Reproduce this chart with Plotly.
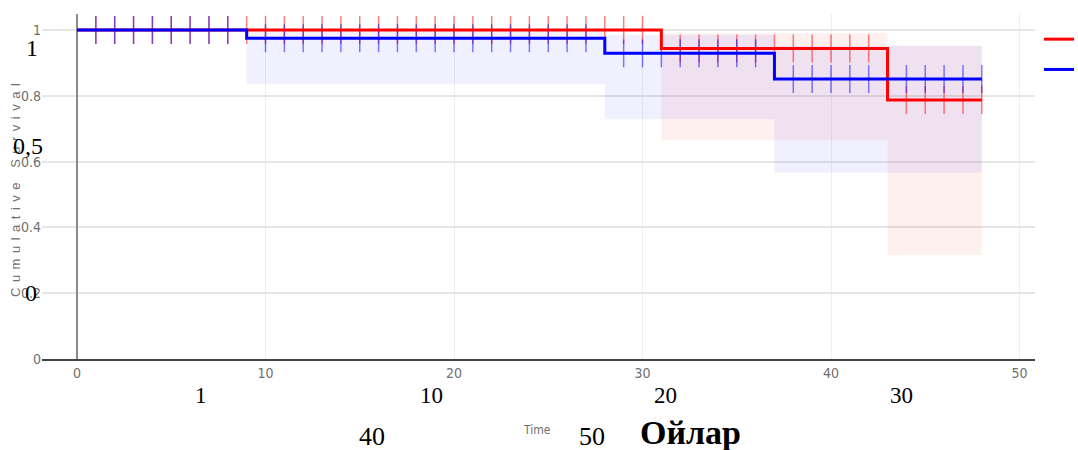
import plotly.graph_objects as go

# ---------------- data ----------------
series_names = ["a", "b"]

# Kaplan-Meier step curves
red_t = [0, 31, 43, 48]
red_s = [1.0, 0.944, 0.787, 0.787]
blue_t = [0, 9, 28, 37, 48]
blue_s = [1.0, 0.975, 0.929, 0.851, 0.851]

# confidence bands (step)
red_band_t = [31, 43, 48]
red_band_hi = [0.99, 0.952, 0.952]
red_band_lo = [0.666, 0.316, 0.316]
blue_band_t = [9, 28, 37, 48]
blue_band_hi = [1.0, 0.985, 0.952, 0.952]
blue_band_lo = [0.835, 0.729, 0.566, 0.566]

# censoring times
red_censor_t = [1, 2, 3, 4, 5, 6, 7, 8, 9, 10, 11, 12, 13, 14, 15, 16, 17, 18, 19,
                20, 21, 22, 23, 24, 25, 26, 27, 28, 29, 30,
                32, 33, 34, 35, 36, 37, 38, 39, 40, 41, 42,
                44, 45, 46, 47, 48]
blue_censor_t = [1, 2, 3, 4, 5, 6, 7, 8,
                 10, 11, 12, 13, 14, 15, 16, 17, 18, 19, 20, 21, 22, 23, 24, 25, 26, 27,
                 29, 30, 31, 32, 33, 34, 35, 36,
                 38, 39, 40, 41, 42, 44, 45, 46, 47, 48]

x_ticks = [0, 10, 20, 30, 40, 50]
y_ticks = [0, 0.2, 0.4, 0.6, 0.8, 1]
y_tick_text = ["0", "0.2", "0.4", "0.6", "0.8", "1"]

# overlay labels (as in the reference)
overlay_y_labels = ["1", "0,5", "0"]
overlay_x_row1 = ["1", "10", "20", "30"]
overlay_x_row2 = ["40", "50"]
overlay_title = "Ойлар"
x_title = "Time"
y_title = "Cumulative Survival"


def step_at(ts, ss, t):
    v = ss[0]
    for ti, si in zip(ts, ss):
        if t >= ti:
            v = si
    return v


red_censor_s = [step_at(red_t, red_s, t) for t in red_censor_t]
blue_censor_s = [step_at(blue_t, blue_s, t) for t in blue_censor_t]

RED = "#ff0000"
BLUE = "#0000ff"

fig = go.Figure()

# bands
fig.add_trace(go.Scatter(x=red_band_t, y=red_band_hi, mode="lines", line=dict(width=0, shape="hv"),
                         showlegend=False, hoverinfo="skip"))
fig.add_trace(go.Scatter(x=red_band_t, y=red_band_lo, mode="lines", line=dict(width=0, shape="hv"),
                         fill="tonexty", fillcolor="rgba(255,0,0,0.06)", showlegend=False, hoverinfo="skip"))
fig.add_trace(go.Scatter(x=blue_band_t, y=blue_band_hi, mode="lines", line=dict(width=0, shape="hv"),
                         showlegend=False, hoverinfo="skip"))
fig.add_trace(go.Scatter(x=blue_band_t, y=blue_band_lo, mode="lines", line=dict(width=0, shape="hv"),
                         fill="tonexty", fillcolor="rgba(0,0,255,0.06)", showlegend=False, hoverinfo="skip"))

# censor marks
fig.add_trace(go.Scatter(x=red_censor_t, y=red_censor_s, mode="markers",
                         marker=dict(symbol="line-ns-open", size=20, color="rgba(255,0,0,0.5)",
                                     line=dict(width=1.5, color="rgba(255,0,0,0.5)")),
                         showlegend=False))
fig.add_trace(go.Scatter(x=blue_censor_t, y=blue_censor_s, mode="markers",
                         marker=dict(symbol="line-ns-open", size=20, color="rgba(0,0,255,0.5)",
                                     line=dict(width=1.5, color="rgba(0,0,255,0.5)")),
                         showlegend=False))

# survival lines
fig.add_trace(go.Scatter(x=red_t, y=red_s, mode="lines", name=series_names[0],
                         line=dict(color=RED, width=3, shape="hv")))
fig.add_trace(go.Scatter(x=blue_t, y=blue_s, mode="lines", name=series_names[1],
                         line=dict(color=BLUE, width=3, shape="hv")))

# plot-area pixel box
L, R, T, B = 42, 1035, 14, 359
W, H = 1078, 450


def fx(px):
    return (px - L) / (R - L)


def fy(py):
    return (B - py) / (B - T)


tick_font = dict(family="Liberation Sans Narrow, DejaVu Sans Condensed, Arial Narrow, sans-serif",
                 size=14, color="#6f6f6f")
serif = "Liberation Serif, Times New Roman, serif"

ann = []
# y-axis title
ann.append(dict(x=fx(15), y=fy(188), xref="paper", yref="paper", textangle=-90,
                text='<span style="letter-spacing:5.5px">' + y_title + '</span>',
                showarrow=False, font=dict(family="Liberation Sans, Arial, sans-serif", size=13, color="#6f6f6f"),
                xanchor="center", yanchor="middle"))
# x-axis title
ann.append(dict(x=fx(537), y=fy(430), xref="paper", yref="paper", text=x_title, showarrow=False,
                font=dict(family=tick_font["family"], size=12, color="#6f6f6f"), xanchor="center", yanchor="middle"))

for txt, (px, py) in zip(overlay_y_labels, [(32, 48), (28, 146), (31, 293)]):
    ann.append(dict(x=fx(px), y=fy(py), xref="paper", yref="paper", text=txt, showarrow=False,
                    font=dict(family=serif, size=24, color="#000"), xanchor="center", yanchor="middle"))
for txt, px in zip(overlay_x_row1, [201, 431, 665, 901]):
    ann.append(dict(x=fx(px), y=fy(395), xref="paper", yref="paper", text=txt, showarrow=False,
                    font=dict(family=serif, size=23, color="#000"), xanchor="center", yanchor="middle"))
for txt, px in zip(overlay_x_row2, [372, 592]):
    ann.append(dict(x=fx(px), y=fy(436), xref="paper", yref="paper", text=txt, showarrow=False,
                    font=dict(family=serif, size=26, color="#000"), xanchor="center", yanchor="middle"))
ann.append(dict(x=fx(690), y=fy(432), xref="paper", yref="paper", text="<b>" + overlay_title + "</b>",
                showarrow=False, font=dict(family=serif, size=34, color="#000"),
                xanchor="center", yanchor="middle"))

x0 = (L - 77) / 18.85
x1 = (R - 77) / 18.85
y1 = (B - T) / 329.0

fig.update_layout(
    width=W, height=H,
    margin=dict(l=L, r=W - R, t=T, b=H - B, autoexpand=False),
    paper_bgcolor="white", plot_bgcolor="white",
    showlegend=True,
    legend=dict(x=fx(1039), y=fy(19), xanchor="left", yanchor="top", traceorder="normal",
                font=dict(family="Liberation Sans, Arial, sans-serif", size=21, color="#777"),
                bgcolor="rgba(0,0,0,0)"),
    xaxis=dict(range=[x0, x1], tickvals=x_ticks, showgrid=True, gridcolor="#efefef", gridwidth=1,
               zeroline=True, zerolinecolor="#8a8a8a", zerolinewidth=1.5,
               showline=True, linecolor="#444", linewidth=2, ticks="", tickfont=tick_font),
    yaxis=dict(range=[0, y1], tickvals=y_ticks, ticktext=y_tick_text, showgrid=True,
               gridcolor="#e6e6e6", gridwidth=1.5, zeroline=False, showline=False, ticks="",
               tickfont=tick_font),
    annotations=ann,
)

fig.write_html("out.html")
